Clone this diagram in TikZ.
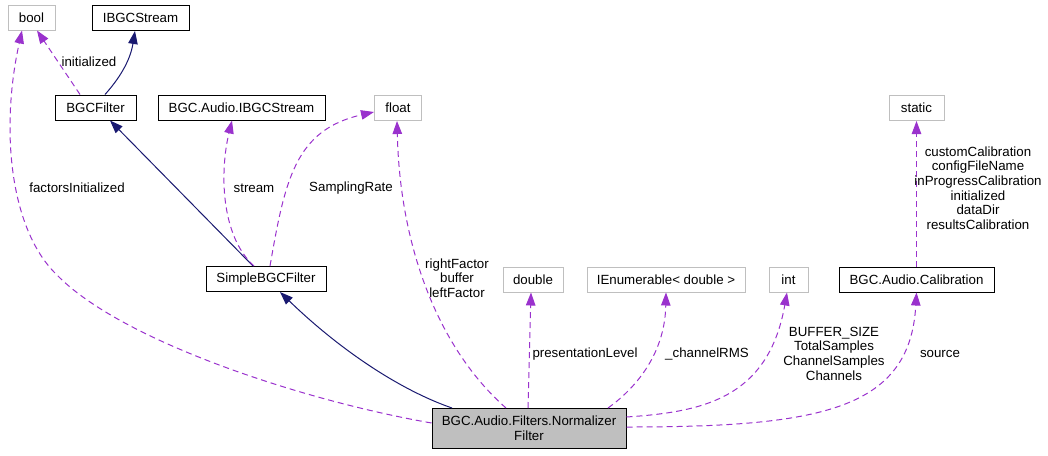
\documentclass[tikz,border=0pt]{standalone}
\usepackage{fontspec}
\setmainfont{Liberation Sans}
\usetikzlibrary{arrows.meta}
\definecolor{navy}{HTML}{191970}
\definecolor{orchid}{HTML}{9A32CD}
\definecolor{grayedge}{HTML}{BFBFBF}
\begin{document}
\begin{tikzpicture}[x=1pt,y=-1pt,
  font=\fontsize{13.3}{14.7}\selectfont,
  cls/.style={draw=black, line width=1pt, fill=white, inner sep=0pt, minimum height=25pt},
  ext/.style={draw=grayedge, line width=1pt, fill=white, inner sep=0pt, minimum height=25pt},
  inh/.style={navy, line width=1pt, -{Triangle[length=13pt,width=9.5pt]}},
  use/.style={orchid, line width=1pt, dash pattern=on 6pt off 4pt, -{Triangle[length=13pt,width=9.5pt]}},
  lbl/.style={text=black, align=center, inner sep=0pt}]
\useasboundingbox (0,0) rectangle (1048,455);
% nodes
\node[ext, minimum width=47pt] (bool) at (31.5,17.5) {bool};
\node[cls, minimum width=97pt] (ibgc) at (140.5,18) {IBGCStream};
\node[cls, minimum width=81pt] (bgcf) at (95.5,107.5) {BGCFilter};
\node[cls, minimum width=167pt] (aibgc) at (241.5,107.5) {BGC.Audio.IBGCStream};
\node[ext, minimum width=47pt] (float) at (398,108) {float};
\node[ext, minimum width=55pt] (static) at (916.5,108) {static};
\node[cls, minimum width=120pt] (simple) at (266,279) {SimpleBGCFilter};
\node[ext, minimum width=60pt] (double) at (533,279.5) {double};
\node[ext, minimum width=158pt] (ienum) at (666,279.5) {IEnumerable< double >};
\node[ext, minimum width=39pt] (int) at (788.5,279.5) {int};
\node[cls, minimum width=155pt] (calib) at (916.5,279.5) {BGC.Audio.Calibration};
\node[cls, fill=grayedge, minimum width=194pt, minimum height=40pt, align=center] (norm) at (529,428.5) {BGC.Audio.Filters.Normalizer\\Filter};
% edges
\draw[inh] ([xshift=9.5pt]bgcf.north) .. controls (118,80) and (130,62) .. ([xshift=-5.5pt]ibgc.south);
\draw[use] ([xshift=-15.5pt]bgcf.north) -- ([xshift=5.5pt]bool.south);
\draw[inh] ([xshift=-13pt]simple.north) -- ([xshift=14.5pt]bgcf.south);
\draw[use] ([xshift=-12pt]simple.north) .. controls (220,235) and (220,170) .. ([xshift=-9.5pt]aibgc.south);
\draw[use] ([xshift=4pt]simple.north) .. controls (285,180) and (295,130) .. ([yshift=-4pt]float.west);
\coordinate (fi) at (57,275);
\draw[use] ([yshift=5.5pt]norm.west) .. controls (300,400) and (120,340) .. (fi) .. controls (10,230) and (0,130) .. ([xshift=-9.5pt]bool.south);
\draw[inh] ([xshift=-77pt]norm.north) .. controls (400,390) and (340,350) .. ([xshift=14pt]simple.south);
\draw[use] ([xshift=-23pt]norm.north) .. controls (440,350) and (400,250) .. ([xshift=-1pt]float.south);
\draw[use] ([xshift=-1pt]norm.north) -- ([xshift=-2pt]double.south);
\draw[use] ([xshift=79pt]norm.north) .. controls (640,385) and (665,350) .. (ienum.south);
\draw[use] ([yshift=11.5pt]norm.east) .. controls (700,412) and (768,400) .. ([xshift=-1.5pt]int.south);
\draw[use] ([yshift=1.5pt]norm.east) .. controls (820,427) and (910,410) .. (calib.south);
\draw[use] (calib.north) -- (static.south);
% labels
\node[lbl] (linit) at (89,62) {initialized};
\node[lbl] (lfact) at (77,188) {factorsInitialized};
\node[lbl] (lstream) at (254,188) {stream};
\node[lbl] (lsamp) at (351,188) {SamplingRate};
\node[lbl] (lfloat) at (457,278) {rightFactor\\buffer\\leftFactor};
\node[lbl] (lpres) at (585,354) {presentationLevel};
\node[lbl] (lrms) at (707,354) {\_channelRMS};
\node[lbl] (lint) at (834,353.5) {BUFFER\_SIZE\\TotalSamples\\ChannelSamples\\Channels};
\node[lbl] (lsrc) at (940,354) {source};
\node[lbl] (lstatic) at (978,188) {customCalibration\\configFileName\\inProgressCalibration\\initialized\\dataDir\\resultsCalibration};
\end{tikzpicture}
\end{document}
